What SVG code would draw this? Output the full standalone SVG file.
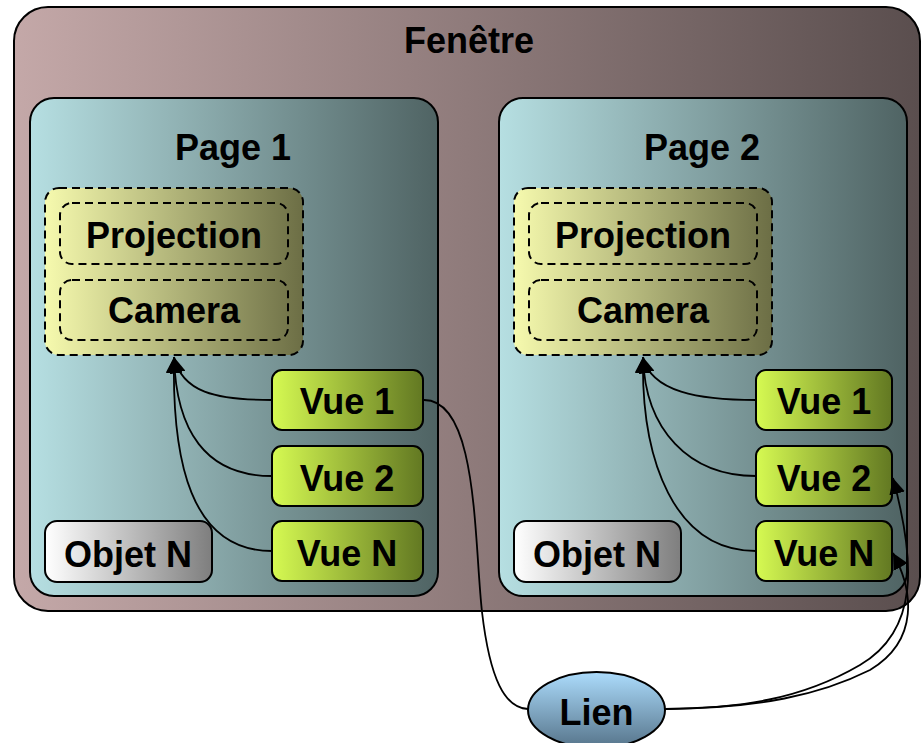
<svg xmlns="http://www.w3.org/2000/svg" width="922" height="743" viewBox="0 0 922 743">
  <defs>
    <linearGradient id="gWin" x1="0" y1="0" x2="1" y2="0">
      <stop offset="0" stop-color="#c4a8a8"/>
      <stop offset="1" stop-color="#5a4e4e"/>
    </linearGradient>
    <linearGradient id="gPage" x1="0" y1="0" x2="1" y2="0">
      <stop offset="0" stop-color="#b6dfe2"/>
      <stop offset="1" stop-color="#4f6363"/>
    </linearGradient>
    <linearGradient id="gCam" x1="0" y1="0" x2="1" y2="0">
      <stop offset="0" stop-color="#f6faae"/>
      <stop offset="1" stop-color="#6c6e45"/>
    </linearGradient>
    <linearGradient id="gVue" x1="0" y1="0" x2="1" y2="0">
      <stop offset="0" stop-color="#d6fa52"/>
      <stop offset="1" stop-color="#627822"/>
    </linearGradient>
    <linearGradient id="gObj" x1="0" y1="0" x2="1" y2="0">
      <stop offset="0" stop-color="#ffffff"/>
      <stop offset="1" stop-color="#7e7e7e"/>
    </linearGradient>
    <linearGradient id="gLien" x1="0" y1="0" x2="0" y2="1">
      <stop offset="0" stop-color="#acdcfc"/>
      <stop offset="1" stop-color="#56748a"/>
    </linearGradient>
    <marker id="arrBig" viewBox="0 0 10 10" refX="10" refY="5" markerWidth="16" markerHeight="16" markerUnits="userSpaceOnUse" orient="auto">
      <path d="M0,0 L10,5 L0,10 z" fill="#000"/>
    </marker>
  </defs>
  <style>
    text { font-family: "Liberation Sans", Arial, sans-serif; font-weight: bold; font-size: 36px; fill: #000; text-anchor: middle; }
    .box { stroke: #000; stroke-width: 2; }
    .dash { stroke: #000; stroke-width: 2; stroke-dasharray: 8 5; }
    .edge { fill: none; stroke: #000; stroke-width: 1.8; }
  </style>

  <!-- window frame -->
  <g id="fenetre">
    <rect class="box" x="14" y="7" width="906" height="604" rx="34" fill="url(#gWin)"/>
    <text x="469" y="53">Fenêtre</text>
  </g>

  <!-- page 1 -->
  <g id="page1">
    <rect class="box" x="30" y="98" width="408" height="498" rx="24" fill="url(#gPage)"/>
    <text x="233" y="160">Page 1</text>
  </g>
  <g id="camgroup1">
    <rect class="dash" x="45" y="188" width="258" height="167" rx="14" fill="url(#gCam)"/>
  </g>
  <g id="projection1">
    <rect class="dash" x="60" y="203" width="228" height="61" rx="12" fill="none"/>
    <text x="174" y="248">Projection</text>
  </g>
  <g id="camera1">
    <rect class="dash" x="60" y="280" width="228" height="60" rx="12" fill="none"/>
    <text x="174" y="323">Camera</text>
  </g>
  <g id="vue1_p1">
    <rect class="box" x="272" y="370" width="151" height="60" rx="10" fill="url(#gVue)"/>
    <text x="347" y="414">Vue 1</text>
  </g>
  <g id="vue2_p1">
    <rect class="box" x="272" y="446" width="151" height="60" rx="10" fill="url(#gVue)"/>
    <text x="347" y="491">Vue 2</text>
  </g>
  <g id="vueN_p1">
    <rect class="box" x="272" y="521" width="151" height="60" rx="10" fill="url(#gVue)"/>
    <text x="347" y="566">Vue N</text>
  </g>
  <g id="objet_p1">
    <rect class="box" x="45" y="521" width="167" height="61" rx="12" fill="url(#gObj)"/>
    <text x="128" y="567">Objet N</text>
  </g>

  <!-- page 2 -->
  <g id="page2">
    <rect class="box" x="499" y="98" width="408" height="498" rx="24" fill="url(#gPage)"/>
    <text x="702" y="160">Page 2</text>
  </g>
  <g id="camgroup2">
    <rect class="dash" x="514" y="188" width="258" height="167" rx="14" fill="url(#gCam)"/>
  </g>
  <g id="projection2">
    <rect class="dash" x="529" y="203" width="228" height="61" rx="12" fill="none"/>
    <text x="643" y="248">Projection</text>
  </g>
  <g id="camera2">
    <rect class="dash" x="529" y="280" width="228" height="60" rx="12" fill="none"/>
    <text x="643" y="323">Camera</text>
  </g>
  <g id="vue1_p2">
    <rect class="box" x="756" y="370" width="136" height="60" rx="10" fill="url(#gVue)"/>
    <text x="824" y="414">Vue 1</text>
  </g>
  <g id="vue2_p2">
    <rect class="box" x="756" y="446" width="136" height="60" rx="10" fill="url(#gVue)"/>
    <text x="824" y="491">Vue 2</text>
  </g>
  <g id="vueN_p2">
    <rect class="box" x="756" y="521" width="136" height="60" rx="10" fill="url(#gVue)"/>
    <text x="824" y="566">Vue N</text>
  </g>
  <g id="objet_p2">
    <rect class="box" x="514" y="521" width="167" height="61" rx="12" fill="url(#gObj)"/>
    <text x="597" y="567">Objet N</text>
  </g>

  <!-- link node -->
  <g id="lien">
    <ellipse class="box" cx="596.5" cy="710" rx="68.5" ry="38" fill="url(#gLien)"/>
    <text x="596.5" y="725">Lien</text>
  </g>

  <!-- connectors -->
  <g id="connectors">
    <path class="edge" marker-end="url(#arrBig)" d="M272,400 C215,400 182,392 174,357"/>
    <path class="edge" marker-end="url(#arrBig)" d="M272,476 C205,476 176,430 174,357"/>
    <path class="edge" marker-end="url(#arrBig)" d="M272,551 C190,551 172,460 174,357"/>
    <path class="edge" marker-end="url(#arrBig)" d="M756,400 C699,400 651,392 643,357"/>
    <path class="edge" marker-end="url(#arrBig)" d="M756,476 C689,476 645,430 643,357"/>
    <path class="edge" marker-end="url(#arrBig)" d="M756,551 C674,551 641,460 643,357"/>
    <path class="edge" d="M423,400 C478,398 474,540 482,612 C490,680 505,708 528,709"/>
    <path class="edge" marker-end="url(#arrBig)" d="M665,709 C740,708 800,700 860,665 C920,630 915,560 893,478"/>
    <path class="edge" marker-end="url(#arrBig)" d="M665,709 C760,708 820,695 870,670 C920,640 913,590 893,553"/>
  </g>
</svg>
